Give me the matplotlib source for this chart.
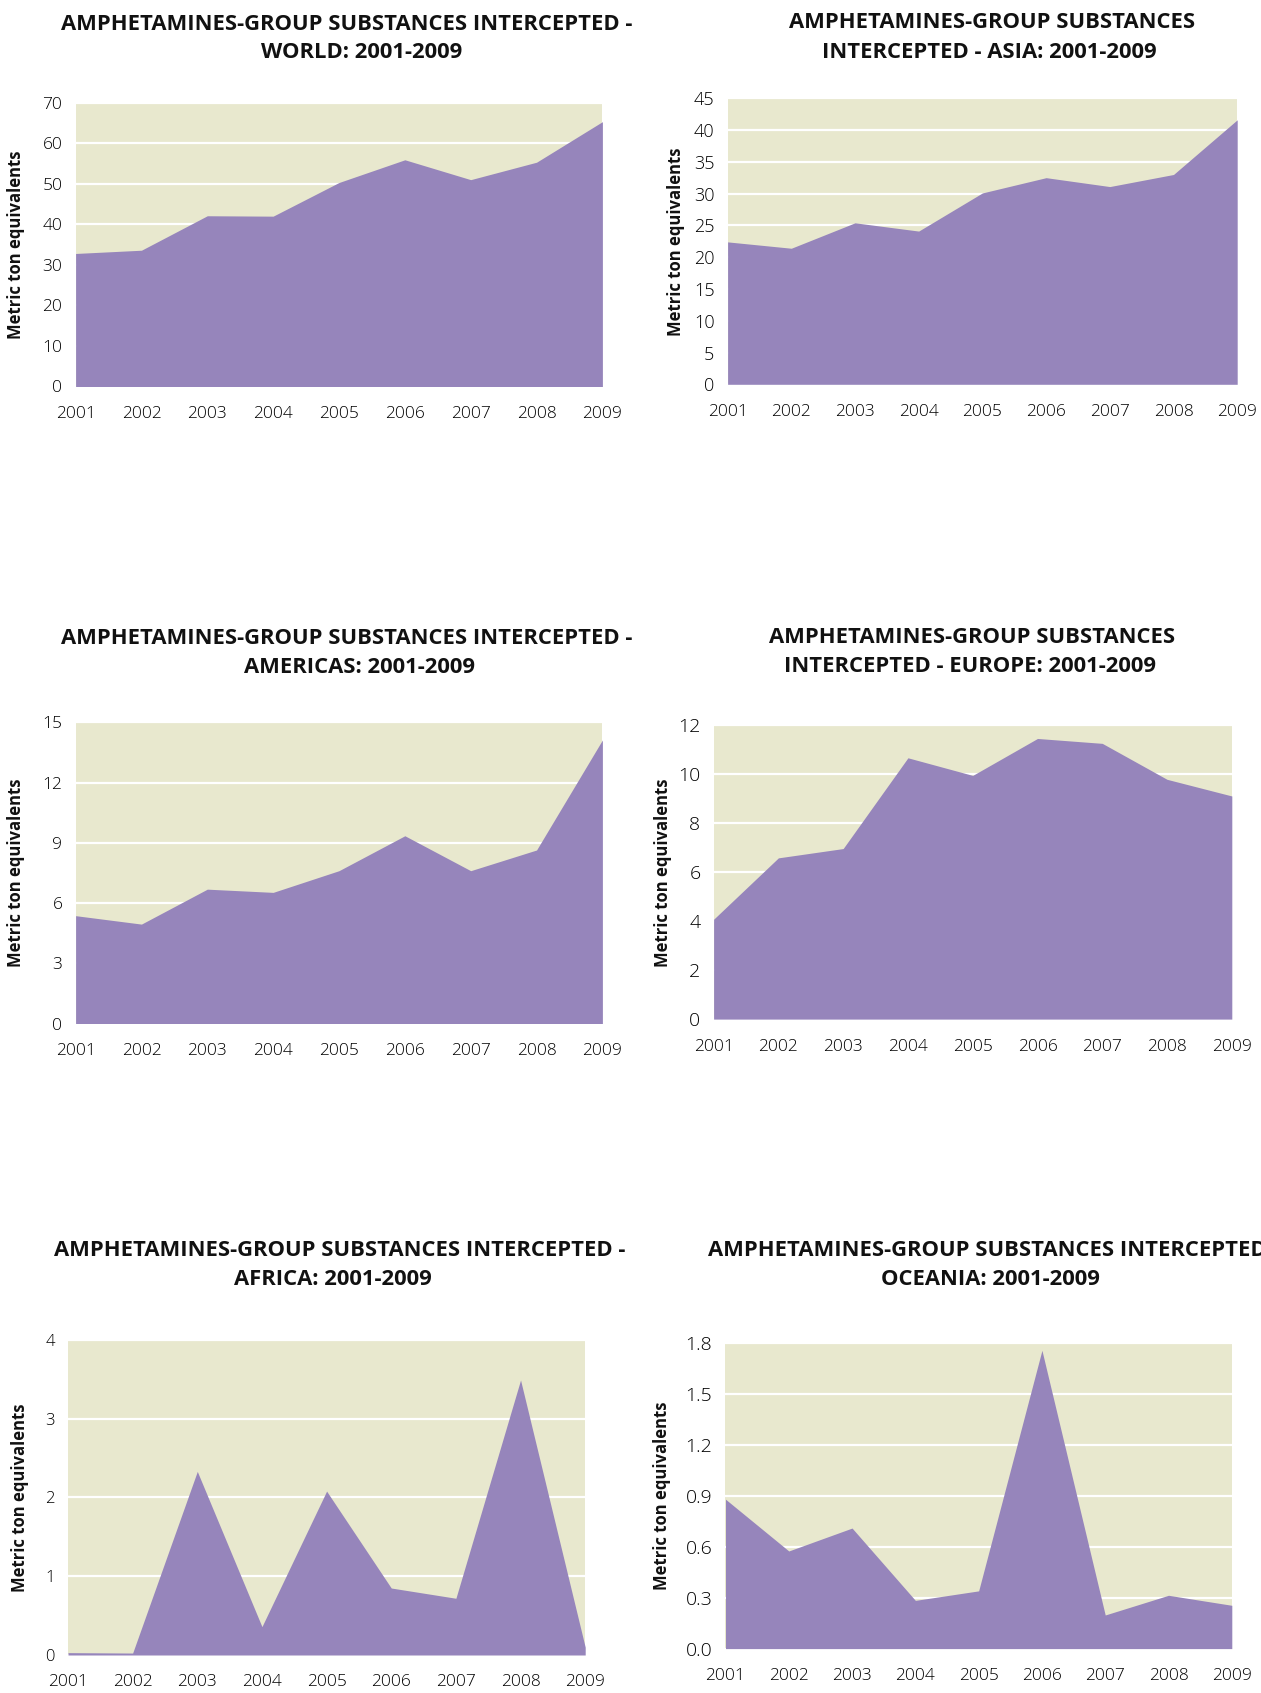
import matplotlib
matplotlib.use("Agg")
from matplotlib import pyplot as plt
import numpy as np

years = [2001, 2002, 2003, 2004, 2005, 2006, 2007, 2008, 2009]

world = [32.8, 33.6, 42.1, 42.0, 50.3, 55.9, 51.0, 55.3, 65.3]
asia = [22.4, 21.4, 25.4, 24.1, 30.1, 32.5, 31.1, 33.0, 41.6]
americas = [5.37, 4.95, 6.69, 6.53, 7.61, 9.35, 7.61, 8.64, 14.12]
europe = [4.08, 6.59, 6.97, 10.68, 9.96, 11.47, 11.27, 9.80, 9.12]
africa = [0.03, 0.025, 2.33, 0.36, 2.08, 0.85, 0.72, 3.49, 0.10]
oceania = [0.88, 0.575, 0.71, 0.284, 0.34, 1.757, 0.198, 0.314, 0.255]

titles = [
    ("AMPHETAMINES-GROUP SUBSTANCES INTERCEPTED -", "WORLD: 2001-2009"),
    ("AMPHETAMINES-GROUP SUBSTANCES", "INTERCEPTED - ASIA: 2001-2009"),
    ("AMPHETAMINES-GROUP SUBSTANCES INTERCEPTED -", "AMERICAS: 2001-2009"),
    ("AMPHETAMINES-GROUP SUBSTANCES", "INTERCEPTED - EUROPE: 2001-2009"),
    ("AMPHETAMINES-GROUP SUBSTANCES INTERCEPTED -", "AFRICA: 2001-2009"),
    ("AMPHETAMINES-GROUP SUBSTANCES INTERCEPTED -", "OCEANIA: 2001-2009"),
]
yticks = [
    [0, 10, 20, 30, 40, 50, 60, 70],
    [0, 5, 10, 15, 20, 25, 30, 35, 40, 45],
    [0, 3, 6, 9, 12, 15],
    [0, 2, 4, 6, 8, 10, 12],
    [0, 1, 2, 3, 4],
    [0.0, 0.3, 0.6, 0.9, 1.2, 1.5, 1.8],
]
ylabel = "Metric ton equivalents"

BG = "#E8E8CE"
FILL = "#9685BB"
FONT = ["Open Sans", "DejaVu Sans"]

W, H = 1261, 1693

# pixel boxes: left, right, top, bottom of each plot area
boxes = [
    (75.6, 602.4, 102.6, 386.5),
    (727.6, 1237.2, 98.2, 384.3),
    (75.6, 602.4, 722.3, 1023.5),
    (713.6, 1231.8, 725.5, 1019.1),
    (68.0, 585.2, 1339.8, 1655.0),
    (725.5, 1231.8, 1343.0, 1648.6),
]
# title line centres (x1, y1, x2, y2)
title_pos = [
    (347, 24, 361.7, 53),
    (991.6, 22, 989, 52),
    (347, 638.5, 360, 667.5),
    (972, 637.5, 969.5, 666.5),
    (339.8, 1250.5, 333, 1279.5),
    (993.5, 1250.5, 990.5, 1279.5),
]
ylabel_x = [16.3, 676.0, 16.3, 663, 20.5, 662]
ytick_size = [12.5, 13, 12.5, 14, 12, 14]

series = [world, asia, americas, europe, africa, oceania]

fig = plt.figure(figsize=(W / 100, H / 100), dpi=100)
fig.patch.set_facecolor("white")

for i, vals in enumerate(series):
    l, r, t, b = boxes[i]
    ax = fig.add_axes([l / W, 1 - b / H, (r - l) / W, (b - t) / H])
    ax.set_facecolor(BG)
    ax.fill_between(years, vals, 0, color=FILL, linewidth=0, zorder=3)
    ax.set_xlim(2001, 2009)
    ax.set_ylim(yticks[i][0], yticks[i][-1])
    ax.set_xticks(years)
    ax.set_yticks(yticks[i])
    if i == 5:
        ax.set_yticklabels([f"{v:.1f}" for v in yticks[i]])
    ax.grid(axis="y", color="white", linewidth=1.6, zorder=1)
    ax.set_axisbelow(True)
    for s in ax.spines.values():
        s.set_visible(False)
    ax.tick_params(axis="both", length=0)
    ax.tick_params(axis="x", pad=14, labelsize=12.5)
    ax.tick_params(axis="y", pad=9.5, labelsize=ytick_size[i])
    for lab in ax.get_xticklabels() + ax.get_yticklabels():
        lab.set_family(FONT)
        lab.set_fontweight(300)
        lab.set_color("black")

    fig.text(ylabel_x[i] / W, 1 - (t + b) / 2 / H, ylabel, rotation=90,
             ha="center", va="center", fontsize=12, fontweight="bold",
             family=FONT, color="#111111")

    x1, y1, x2, y2 = title_pos[i]
    fig.text(x1 / W, 1 - y1 / H, titles[i][0], ha="center", va="center",
             fontsize=15.8, fontweight="bold", family=FONT, color="#111111")
    fig.text(x2 / W, 1 - y2 / H, titles[i][1], ha="center", va="center",
             fontsize=15.8, fontweight="bold", family=FONT, color="#111111")

fig.savefig("out.png", dpi=100)
